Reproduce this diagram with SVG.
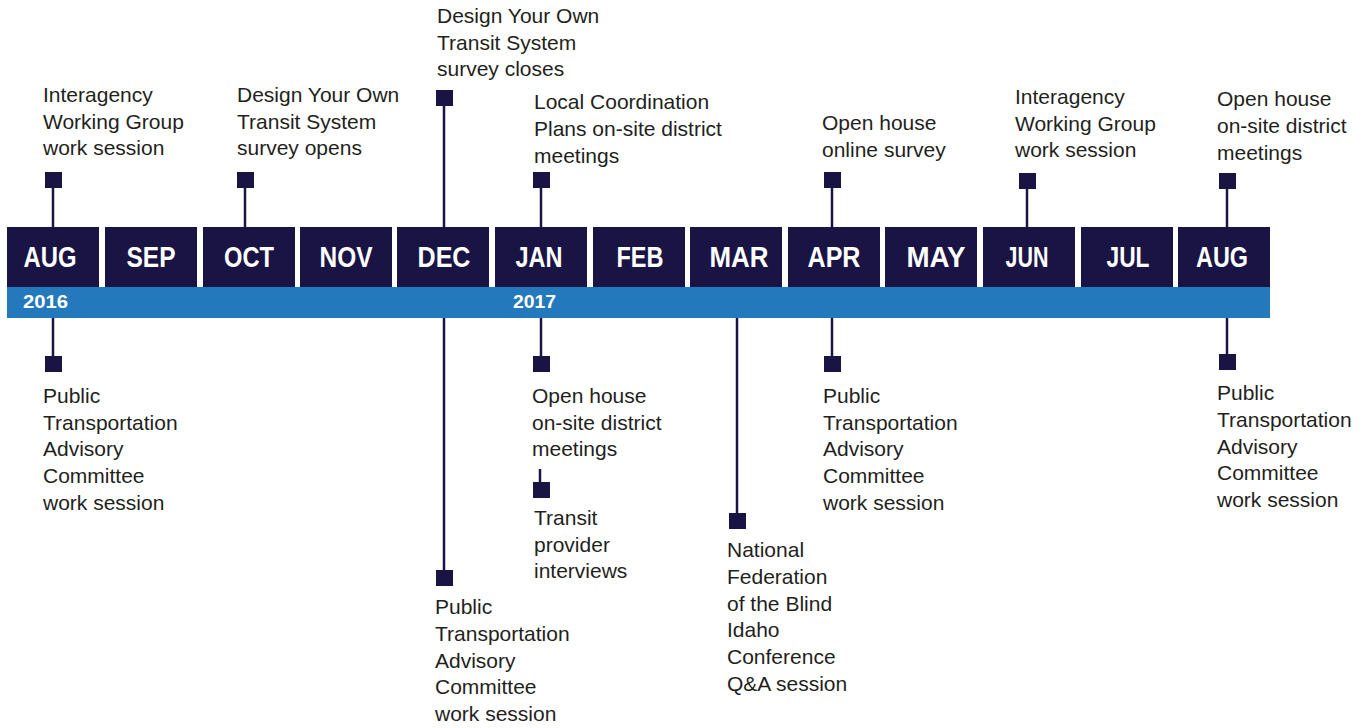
<svg xmlns="http://www.w3.org/2000/svg" width="1372" height="728" viewBox="0 0 1372 728">
<style>
.m{fill:#1a1444}
.ml{font-family:"Liberation Sans",Arial,sans-serif;font-weight:bold;font-size:29px;fill:#ffffff;text-anchor:middle}
.yr{font-family:"Liberation Sans",Arial,sans-serif;font-weight:bold;font-size:18px;fill:#ffffff}
.t{font-family:"Liberation Sans",Arial,sans-serif;font-size:21px;fill:#231f20}
.sq{fill:#1a1444}
.c{stroke:#1a1444;stroke-width:2.5;fill:none}
</style>
<rect width="1372" height="728" fill="#ffffff"/>
<g id="timeline">
<rect x="7" y="287" width="1263" height="31" fill="#2479bd"/>
<text class="yr" x="23" y="308" textLength="45" lengthAdjust="spacingAndGlyphs">2016</text>
<text class="yr" x="513" y="308" textLength="43" lengthAdjust="spacingAndGlyphs">2017</text>
</g>
<g id="months">
<g id="m-aug16"><rect class="m" x="7" y="227" width="92" height="60"/><text class="ml" x="50" y="267" textLength="53" lengthAdjust="spacingAndGlyphs">AUG</text></g>
<g id="m-sep"><rect class="m" x="105" y="227" width="92" height="60"/><text class="ml" x="151" y="267" textLength="49" lengthAdjust="spacingAndGlyphs">SEP</text></g>
<g id="m-oct"><rect class="m" x="203" y="227" width="92" height="60"/><text class="ml" x="249" y="267" textLength="50" lengthAdjust="spacingAndGlyphs">OCT</text></g>
<g id="m-nov"><rect class="m" x="300" y="227" width="92" height="60"/><text class="ml" x="346" y="267" textLength="53" lengthAdjust="spacingAndGlyphs">NOV</text></g>
<g id="m-dec"><rect class="m" x="397" y="227" width="92" height="60"/><text class="ml" x="444" y="267" textLength="53" lengthAdjust="spacingAndGlyphs">DEC</text></g>
<g id="m-jan"><rect class="m" x="495" y="227" width="92" height="60"/><text class="ml" x="539" y="267" textLength="47" lengthAdjust="spacingAndGlyphs">JAN</text></g>
<g id="m-feb"><rect class="m" x="593" y="227" width="92" height="60"/><text class="ml" x="640" y="267" textLength="47" lengthAdjust="spacingAndGlyphs">FEB</text></g>
<g id="m-mar"><rect class="m" x="690" y="227" width="92" height="60"/><text class="ml" x="739" y="267" textLength="59" lengthAdjust="spacingAndGlyphs">MAR</text></g>
<g id="m-apr"><rect class="m" x="788" y="227" width="92" height="60"/><text class="ml" x="834" y="267" textLength="53" lengthAdjust="spacingAndGlyphs">APR</text></g>
<g id="m-may"><rect class="m" x="885" y="227" width="92" height="60"/><text class="ml" x="936" y="267" textLength="59" lengthAdjust="spacingAndGlyphs">MAY</text></g>
<g id="m-jun"><rect class="m" x="983" y="227" width="92" height="60"/><text class="ml" x="1027" y="267" textLength="43" lengthAdjust="spacingAndGlyphs">JUN</text></g>
<g id="m-jul"><rect class="m" x="1081" y="227" width="92" height="60"/><text class="ml" x="1128" y="267" textLength="43" lengthAdjust="spacingAndGlyphs">JUL</text></g>
<g id="m-aug17"><rect class="m" x="1178" y="227" width="92" height="60"/><text class="ml" x="1222" y="267" textLength="52" lengthAdjust="spacingAndGlyphs">AUG</text></g>
</g>
<g id="connectors">
<line class="c" x1="53" y1="187" x2="53" y2="227"/>
<line class="c" x1="245" y1="187" x2="245" y2="227"/>
<line class="c" x1="444" y1="105" x2="444" y2="227"/>
<line class="c" x1="541" y1="187" x2="541" y2="227"/>
<line class="c" x1="832" y1="187" x2="832" y2="227"/>
<line class="c" x1="1027" y1="188" x2="1027" y2="227"/>
<line class="c" x1="1227" y1="188" x2="1227" y2="227"/>
<line class="c" x1="53" y1="318" x2="53" y2="357"/>
<line class="c" x1="444" y1="318" x2="444" y2="571"/>
<line class="c" x1="541" y1="318" x2="541" y2="357"/>
<line class="c" x1="540" y1="469" x2="540" y2="483"/>
<line class="c" x1="737" y1="318" x2="737" y2="514"/>
<line class="c" x1="832" y1="318" x2="832" y2="357"/>
<line class="c" x1="1227" y1="318" x2="1227" y2="355"/>
</g>
<g id="ev-aug16-top"><rect class="sq" x="45" y="172" width="17" height="16"/>
<text class="t" x="43" y="102">Interagency</text><text class="t" x="43" y="129">Working Group</text><text class="t" x="43" y="155">work session</text></g>
<g id="ev-oct-top"><rect class="sq" x="237" y="172" width="17" height="16"/>
<text class="t" x="237" y="102">Design Your Own</text><text class="t" x="237" y="129">Transit System</text><text class="t" x="237" y="155">survey opens</text></g>
<g id="ev-dec-top"><rect class="sq" x="436" y="90" width="17" height="16"/>
<text class="t" x="437" y="23">Design Your Own</text><text class="t" x="437" y="50">Transit System</text><text class="t" x="437" y="76">survey closes</text></g>
<g id="ev-jan-top"><rect class="sq" x="533" y="172" width="17" height="16"/>
<text class="t" x="534" y="109">Local Coordination</text><text class="t" x="534" y="136">Plans on-site district</text><text class="t" x="534" y="163">meetings</text></g>
<g id="ev-apr-top"><rect class="sq" x="824" y="172" width="17" height="16"/>
<text class="t" x="822" y="130">Open house</text><text class="t" x="822" y="157">online survey</text></g>
<g id="ev-jun-top"><rect class="sq" x="1019" y="173" width="17" height="16"/>
<text class="t" x="1015" y="104">Interagency</text><text class="t" x="1015" y="131">Working Group</text><text class="t" x="1015" y="157">work session</text></g>
<g id="ev-aug17-top"><rect class="sq" x="1219" y="173" width="17" height="16"/>
<text class="t" x="1217" y="106">Open house</text><text class="t" x="1217" y="133">on-site district</text><text class="t" x="1217" y="160">meetings</text></g>
<g id="ev-aug16-bottom"><rect class="sq" x="45" y="356" width="17" height="16"/>
<text class="t" x="43" y="403">Public</text><text class="t" x="43" y="430">Transportation</text><text class="t" x="43" y="456">Advisory</text><text class="t" x="43" y="483">Committee</text><text class="t" x="43" y="510">work session</text></g>
<g id="ev-dec-bottom"><rect class="sq" x="436" y="570" width="17" height="16"/>
<text class="t" x="435" y="614">Public</text><text class="t" x="435" y="641">Transportation</text><text class="t" x="435" y="668">Advisory</text><text class="t" x="435" y="694">Committee</text><text class="t" x="435" y="721">work session</text></g>
<g id="ev-jan-bottom"><rect class="sq" x="533" y="356" width="17" height="16"/>
<text class="t" x="532" y="403">Open house</text><text class="t" x="532" y="430">on-site district</text><text class="t" x="532" y="456">meetings</text></g>
<g id="ev-jan-interviews"><rect class="sq" x="533" y="482" width="17" height="16"/>
<text class="t" x="534" y="525">Transit</text><text class="t" x="534" y="552">provider</text><text class="t" x="534" y="578">interviews</text></g>
<g id="ev-mar-bottom"><rect class="sq" x="729" y="513" width="17" height="16"/>
<text class="t" x="727" y="557">National</text><text class="t" x="727" y="584">Federation</text><text class="t" x="727" y="611">of the Blind</text><text class="t" x="727" y="637">Idaho</text><text class="t" x="727" y="664">Conference</text><text class="t" x="727" y="691">Q&amp;A session</text></g>
<g id="ev-apr-bottom"><rect class="sq" x="824" y="356" width="17" height="16"/>
<text class="t" x="823" y="403">Public</text><text class="t" x="823" y="430">Transportation</text><text class="t" x="823" y="456">Advisory</text><text class="t" x="823" y="483">Committee</text><text class="t" x="823" y="510">work session</text></g>
<g id="ev-aug17-bottom"><rect class="sq" x="1219" y="354" width="17" height="16"/>
<text class="t" x="1217" y="400">Public</text><text class="t" x="1217" y="427">Transportation</text><text class="t" x="1217" y="454">Advisory</text><text class="t" x="1217" y="480">Committee</text><text class="t" x="1217" y="507">work session</text></g>
</svg>
